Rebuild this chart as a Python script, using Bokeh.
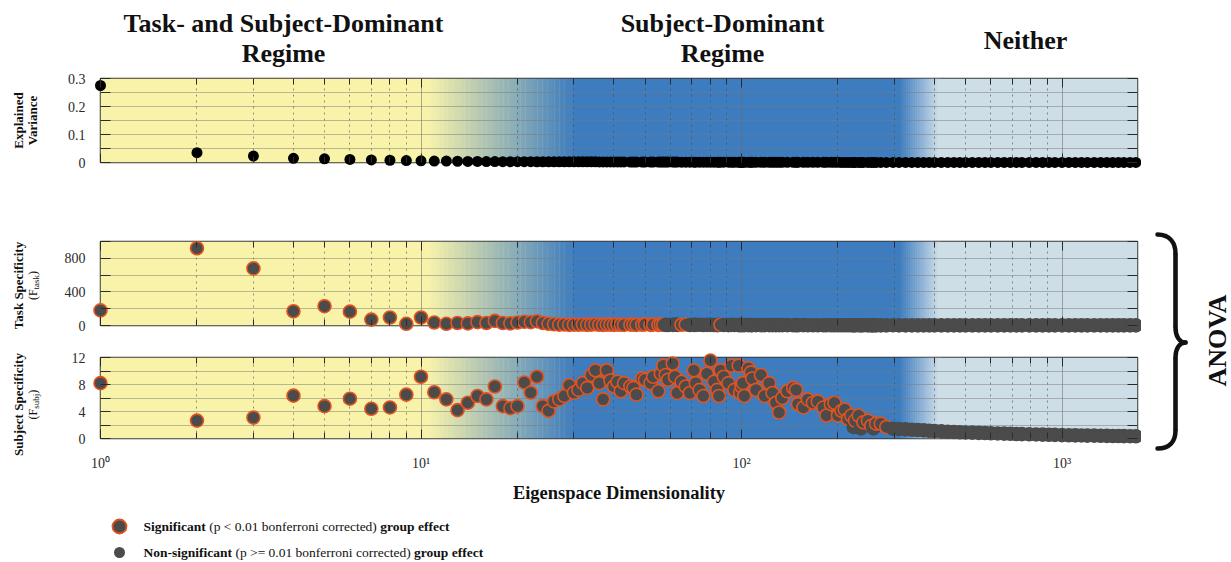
import numpy as np
from bokeh.plotting import figure
from bokeh.layouts import column, row
from bokeh.models import ColumnDataSource, FixedTicker, LinearAxis, LogAxis, Range1d
from bokeh.core.properties import value
from bokeh.embed import file_html
from bokeh.resources import INLINE

SERIF = "Liberation Serif"

# ---------------------------------------------------------------- data
dims = [
    1, 2, 3, 4, 5, 6, 7, 8, 9, 10,
    11, 12, 13, 14, 15, 16, 17, 18, 19, 20,
    21, 22, 23, 24, 25, 26, 27, 28, 29, 30,
    31, 32, 33, 34, 35, 36, 37, 38, 39, 40,
    41, 42, 43, 45, 46, 47, 49, 50, 52, 53,
    55, 56, 57, 58, 59, 61, 62, 63, 65, 67,
    69, 71, 72, 74, 76, 78, 80, 82, 84, 85,
    86, 88, 91, 93, 95, 98, 99, 100, 101, 102,
    105, 107, 108, 111, 115, 118, 122, 125, 128, 131,
    134, 139, 145, 148, 150, 156, 161, 167, 173, 180,
    184, 190, 195, 200, 205, 210, 215, 220, 224, 226,
    232, 236, 240, 248, 254, 258, 263, 272, 283,
    297, 310, 325, 340, 355, 370, 385, 400, 420, 440,
    460, 480, 500, 525, 550, 575, 600, 630, 660, 690,
    720, 750, 790, 830, 870, 910, 950, 1000, 1050, 1100,
    1150, 1200, 1260, 1320, 1380, 1440, 1500, 1560, 1630, 1700,
]

explained_variance = [
    0.275, 0.035, 0.023, 0.015, 0.013, 0.011, 0.009, 0.008, 0.007, 0.006,
    0.005, 0.005, 0.0045, 0.004, 0.004, 0.0035, 0.0035, 0.003, 0.003, 0.003,
    0.003, 0.0028, 0.0027, 0.0027, 0.0026, 0.0026, 0.0025, 0.0025, 0.0025, 0.0025,
    0.0025, 0.0024, 0.0024, 0.0023, 0.0023, 0.0022, 0.0022, 0.0021, 0.0021, 0.002,
    0.002, 0.0019, 0.0019, 0.0018, 0.0018, 0.0018, 0.0017, 0.0017, 0.0016, 0.0016,
    0.0016, 0.0015, 0.0015, 0.0015, 0.0015, 0.0014, 0.0014, 0.0014, 0.0013, 0.0013,
    0.0013, 0.0012, 0.0012, 0.0012, 0.0011, 0.0011, 0.0011, 0.0011, 0.001, 0.001,
    0.001, 0.001, 0.001, 0.0009, 0.0009, 0.0009, 0.0009, 0.0009, 0.0009, 0.0009,
    0.0008, 0.0008, 0.0008, 0.0008, 0.0008, 0.0007, 0.0007, 0.0007, 0.0007, 0.0007,
    0.0007, 0.0006, 0.0006, 0.0006, 0.0006, 0.0006, 0.0006, 0.0005, 0.0005, 0.0005,
    0.0005, 0.0005, 0.0005, 0.0005, 0.0004, 0.0004, 0.0004, 0.0004, 0.0004, 0.0004,
    0.0004, 0.0004, 0.0004, 0.0003, 0.0003, 0.0003, 0.0003, 0.0003, 0.0003,
    0.0003, 0.0003, 0.0003, 0.0003, 0.0002, 0.0002, 0.0002, 0.0002, 0.0002, 0.0002,
    0.0002, 0.0002, 0.0002, 0.0002, 0.0002, 0.0002, 0.0001, 0.0001, 0.0001, 0.0001,
    0.0001, 0.0001, 0.0001, 0.0001, 0.0001, 0.0001, 0.0001, 0.0001, 0.0001, 0.0001,
    0.0001, 0.0001, 0.0001, 0.0001, 0.0001, 0.0001, 0.0001, 0.0001, 0.0001, 0.0001,
]

task_F = [
    180, 920, 680, 170, 230, 165, 70, 95, 20, 95,
    35, 20, 30, 25, 40, 30, 55, 30, 25, 35,
    45, 40, 50, 30, 20, 15, 10, 12, 8, 10,
    9, 12, 8, 10, 14, 9, 7, 11, 10, 8,
    12, 9, 7, 10, 11, 8, 9, 13, 7, 10,
    8, 11, 9, 7, 6, 8, 10, 7, 9, 12,
    6, 8, 7, 9, 6, 7, 8, 6, 5, 7,
    9, 6, 5, 7, 6, 5, 6, 5, 6, 5,
    5, 4, 5, 4, 5, 4, 4, 5, 4, 4,
    4, 4, 3, 4, 3, 4, 3, 3, 3, 3,
    3, 3, 3, 3, 3, 3, 3, 3, 2, 3,
    3, 2, 3, 2, 2, 2, 2, 2, 2,
    2, 2, 2, 2, 2, 2, 2, 2, 2, 2,
    2, 2, 1.5, 1.5, 1.5, 1.5, 1.5, 1.5, 1.5, 1.5,
    1.5, 1.5, 1.5, 1, 1, 1, 1, 1, 1, 1,
    1, 1, 1, 1, 1, 1, 1, 1, 1, 1,
]

subject_F = [
    8.2, 2.65, 3.1, 6.35, 4.8, 5.9, 4.4, 4.6, 6.5, 9.15,
    6.85, 5.8, 4.2, 5.3, 6.3, 5.8, 7.7, 4.8, 4.5, 4.8,
    8.3, 6.8, 9.15, 4.8, 4.1, 5.5, 5.8, 6.3, 7.9, 6.8,
    7.2, 8.2, 7.5, 9.4, 10.1, 8.2, 5.8, 10.1, 8.6, 7.7,
    8.4, 7.0, 8.2, 7.7, 7.5, 6.5, 8.9, 8.7, 8.2, 9.15,
    7.0, 9.6, 10.8, 9.4, 8.7, 11.1, 9.15, 6.75, 8.4, 7.7,
    6.75, 10.1, 8.2, 7.2, 6.3, 9.6, 11.55, 8.4, 7.2, 6.3,
    10.1, 9.15, 8.2, 10.8, 7.2, 10.8, 6.75, 7.7, 8.2, 6.3,
    10.4, 9.8, 8.9, 7.2, 9.4, 6.3, 8.2, 6.75, 5.3, 3.85,
    6.0, 7.0, 7.5, 7.2, 5.1, 4.6, 5.8, 5.3, 5.5, 4.6,
    3.4, 5.1, 5.3, 3.4, 4.1, 4.3, 2.9, 3.4, 1.7, 2.65,
    3.4, 1.5, 2.4, 2.65, 1.9, 1.5, 2.2, 2.2, 1.7,
    1.45, 1.4, 1.35, 1.3, 1.25, 1.2, 1.15, 1.1, 1.05, 1.0,
    0.97, 0.93, 0.9, 0.87, 0.84, 0.81, 0.78, 0.75, 0.72, 0.7,
    0.67, 0.65, 0.62, 0.6, 0.57, 0.55, 0.53, 0.5, 0.48, 0.46,
    0.45, 0.43, 0.42, 0.4, 0.39, 0.37, 0.36, 0.35, 0.34, 0.33,
]

# significance of the group effect (p < 0.01, bonferroni corrected)
task_sig_last_dim = 57
task_sig_extra_dims = [65, 67, 86]
subject_sig_last_dim = 283
subject_nonsig_dims = [224, 236, 258]

# regime boundaries (eigenspace dimensionality)
yellow_end, blue_start, blue_end, light_start = 10.5, 30, 315, 415

regime_titles = ["Task- and Subject-Dominant", "Regime", "Subject-Dominant", "Regime", "Neither"]

x_tick_values = [1, 10, 100, 1000]
x_tick_labels = ["10\u2070", "10\u00b9", "10\u00b2", "10\u00b3"]
x_minor_ticks = [m * 10 ** k for k in range(3) for m in range(2, 10)]
X_RANGE = (1, 1720)

ev_ticks, ev_minor, ev_max = [0, 0.1, 0.2, 0.3], [0.05, 0.15, 0.25], 0.3
task_ticks, task_minor, task_max = [0, 400, 800], [200, 600, 1000], 1000
subj_ticks, subj_minor, subj_max = [0, 4, 8, 12], [2, 6, 10], 12

assert len(dims) == len(explained_variance) == len(task_F) == len(subject_F)

# ---------------------------------------------------------------- style
YELLOW = (249, 243, 170)
BLUE = (61, 124, 191)
LIGHT = (206, 222, 230)
DOT = "#4b4b4b"
SIG_EDGE = "#e4531f"
INK = "#111111"


def hexc(c):
    return "#%02x%02x%02x" % tuple(int(round(v)) for v in c)


bg_left, bg_right, bg_color = [], [], []


def add_strip(l, r, c):
    bg_left.append(l)
    bg_right.append(r)
    bg_color.append(hexc(c))


def add_ramp(a, b, ca, cb, n=60):
    edges = np.logspace(np.log10(a), np.log10(b), n + 1)
    for i in range(n):
        t = (i + 0.5) / n
        c = tuple(x + (y - x) * t for x, y in zip(ca, cb))
        add_strip(edges[i], edges[i + 1] * 1.003, c)


add_strip(X_RANGE[0], yellow_end * 1.003, YELLOW)
add_ramp(yellow_end, blue_start, YELLOW, BLUE)
add_strip(blue_start, blue_end * 1.003, BLUE)
add_ramp(blue_end, light_start, BLUE, LIGHT)
add_strip(light_start, X_RANGE[1], LIGHT)


def hide_labels(ax):
    ax.major_label_text_font_size = "1px"
    ax.major_label_text_color = None
    ax.major_label_standoff = 0


def style_axis(ax, major_in, minor_in):
    ax.axis_line_color = None
    ax.major_tick_out = 0
    ax.minor_tick_out = 0
    ax.major_tick_in = major_in
    ax.minor_tick_in = minor_in
    ax.major_tick_line_color = "#2a2a2a"
    ax.minor_tick_line_color = "#2a2a2a"
    ax.major_tick_line_width = 1
    ax.minor_tick_line_width = 1
    ax.major_label_text_font = SERIF
    ax.major_label_text_color = "#2a2a2a"


def make_panel(height, top, bottom, y_max, ticks, minor, with_x_labels):
    p = figure(width=1086, height=height, x_axis_type="log",
               x_range=Range1d(*X_RANGE), y_range=Range1d(0, y_max),
               output_backend="svg", toolbar_location=None,
               min_border_left=45, min_border_right=4,
               min_border_top=top, min_border_bottom=bottom)
    p.border_fill_color = "white"
    p.background_fill_color = "white"
    p.outline_line_color = "#3a3a3a"
    p.outline_line_width = 1.5

    p.quad(left=bg_left, right=bg_right, bottom=0, top=y_max,
           fill_color=bg_color, line_color=None, level="image")

    xt = FixedTicker(ticks=x_tick_values, minor_ticks=x_minor_ticks)
    yt = FixedTicker(ticks=ticks, minor_ticks=minor)
    p.xaxis.ticker = xt
    p.yaxis.ticker = yt
    p.xgrid.ticker = xt
    p.ygrid.ticker = yt

    p.xgrid.grid_line_color = "#6a6a6a"
    p.xgrid.grid_line_alpha = 0.55
    p.xgrid.grid_line_width = 1
    p.xgrid.minor_grid_line_color = "#4a4a4a"
    p.xgrid.minor_grid_line_alpha = 0.6
    p.xgrid.minor_grid_line_dash = "2 4"
    p.ygrid.grid_line_color = "#7a7a7a"
    p.ygrid.grid_line_alpha = 0.5
    p.ygrid.minor_grid_line_color = "#7a7a7a"
    p.ygrid.minor_grid_line_alpha = 0.5

    left = p.yaxis[0]
    style_axis(left, 10, 10)
    left.major_label_text_font_size = "14px"
    left.major_label_standoff = 15
    left.major_label_overrides = {0: "0"}

    bottom_ax = p.xaxis[0]
    style_axis(bottom_ax, 9, 6)
    if with_x_labels:
        bottom_ax.major_label_overrides = dict(zip(x_tick_values, x_tick_labels))
        bottom_ax.major_label_text_font_size = "14px"
        bottom_ax.major_label_standoff = 17
        bottom_ax.axis_label = "Eigenspace Dimensionality"
        bottom_ax.axis_label_text_font = SERIF
        bottom_ax.axis_label_text_font_style = "bold"
        bottom_ax.axis_label_text_font_size = "18.5px"
        bottom_ax.axis_label_text_color = INK
        bottom_ax.axis_label_standoff = 9
    else:
        hide_labels(bottom_ax)

    top_ax = LogAxis(ticker=xt)
    style_axis(top_ax, 9, 6)
    hide_labels(top_ax)
    p.add_layout(top_ax, "above")

    right_ax = LinearAxis(ticker=yt)
    style_axis(right_ax, 10, 10)
    hide_labels(right_ax)
    p.add_layout(right_ax, "right")
    return p


# ---------------------------------------------------------------- panels
# dots are drawn at "guide" level so that points on the frame edge are not cut in half
p1 = make_panel(130, 8, 38, ev_max, ev_ticks, ev_minor, False)
p1.scatter(x=dims, y=explained_variance, size=11, fill_color="#000000", line_color=None,
           level="guide")

task_edge = [SIG_EDGE if (d <= task_sig_last_dim or d in task_sig_extra_dims) else DOT for d in dims]
subj_edge = [SIG_EDGE if (d <= subject_sig_last_dim and d not in subject_nonsig_dims) else DOT for d in dims]

p2 = make_panel(133, 41, 8, task_max, task_ticks, task_minor, False)
p2.scatter("x", "y", source=ColumnDataSource(dict(x=dims, y=task_F, lc=task_edge)),
           size=13, fill_color=DOT, line_color="lc", line_width=1.6, level="guide")

p3 = make_panel(172, 24, 65, subj_max, subj_ticks, subj_minor, True)
p3.scatter("x", "y", source=ColumnDataSource(dict(x=dims, y=subject_F, lc=subj_edge)),
           size=13, fill_color=DOT, line_color="lc", line_width=1.6, level="guide")


# ---------------------------------------------------------------- decorations
def canvas(w, h):
    f = figure(width=w, height=h, x_range=Range1d(0, w), y_range=Range1d(h, 0),
               x_axis_location=None, y_axis_location=None,
               toolbar_location=None, output_backend="svg", min_border=0)
    f.outline_line_color = None
    f.background_fill_color = "white"
    f.border_fill_color = "white"
    f.grid.visible = False
    return f


# the text glyph puts the alphabetic baseline about 0.33 em past its anchor
header = canvas(1231, 70)
header.text(x=[283, 283, 722, 722, 1025], y=[22.5, 52.5, 22.5, 52.5, 39.5], text=regime_titles,
            text_font=value(SERIF), text_font_style="bold", text_font_size="26px",
            text_align="center", text_baseline="alphabetic", text_color=INK)

left_fig = canvas(55, 435)
HALF_PI = np.pi / 2
left_fig.text(x=[17.7, 31.7, 17.7, 17.7], y=[50, 50, 215, 334],
              text=["Explained", "Variance", "Task Specificity", "Subject Specificity"],
              angle=HALF_PI, text_font=value(SERIF), text_font_style="bold",
              text_font_size="13px", text_align="center", text_baseline="alphabetic",
              text_color=INK)
# (F_task) and (F_subj) with subscripts
left_fig.text(x=[32, 32, 32, 32], y=[229.6, 204.4, 348.9, 323.2],
              text=["(F", ")", "(F", ")"], angle=HALF_PI, text_font=value(SERIF),
              text_font_size="12px", text_align="left", text_baseline="alphabetic",
              text_color=INK)
left_fig.text(x=[35.5, 35.5], y=[218.9, 338.2], text=["task", "subj"], angle=HALF_PI,
              text_font=value(SERIF), text_font_size="9px", text_align="left",
              text_baseline="alphabetic", text_color=INK)

right_fig = canvas(90, 435)
BX = 34
right_fig.bezier(x0=[16, BX, 44, BX], y0=[164, 257, 272, 360],
                 x1=[BX, 44, BX, 16], y1=[183, 272, 287, 378],
                 cx0=[28, BX, 38, BX], cy0=[164, 266, 272, 371],
                 cx1=[BX, 38, BX, 28], cy1=[172, 272, 278, 378],
                 line_width=4.5, line_color=INK, line_cap="round")
right_fig.segment(x0=[BX, BX], y0=[183, 287], x1=[BX, BX], y1=[257, 360],
                  line_width=4.6, line_color=INK)
right_fig.text(x=[76], y=[270], text=["ANOVA"], angle=HALF_PI, text_font=value(SERIF),
               text_font_style="bold", text_font_size="26px", text_align="center",
               text_baseline="middle", text_color=INK)

footer = canvas(1231, 57)
footer.scatter(x=[119], y=[21], size=14, fill_color=DOT, line_color=SIG_EDGE, line_width=1.8)
footer.scatter(x=[119], y=[47], size=11, fill_color=DOT, line_color=None)
footer.text(x=[143, 379.8, 143, 413.6], y=[21, 21, 47, 47],
            text=["Significant", "group effect", "Non-significant", "group effect"],
            text_font=value(SERIF), text_font_style="bold", text_font_size="13.5px",
            text_align="left", text_baseline="middle", text_color=INK)
footer.text(x=[208.7, 234.9], y=[21, 47],
            text=["(p < 0.01 bonferroni corrected)", "(p >= 0.01 bonferroni corrected)"],
            text_font=value(SERIF), text_font_size="13.5px",
            text_align="left", text_baseline="middle", text_color=INK)

layout = column(header, row(left_fig, column(p1, p2, p3), right_fig), footer)

open("out.html", "w").write(file_html(layout, INLINE))
